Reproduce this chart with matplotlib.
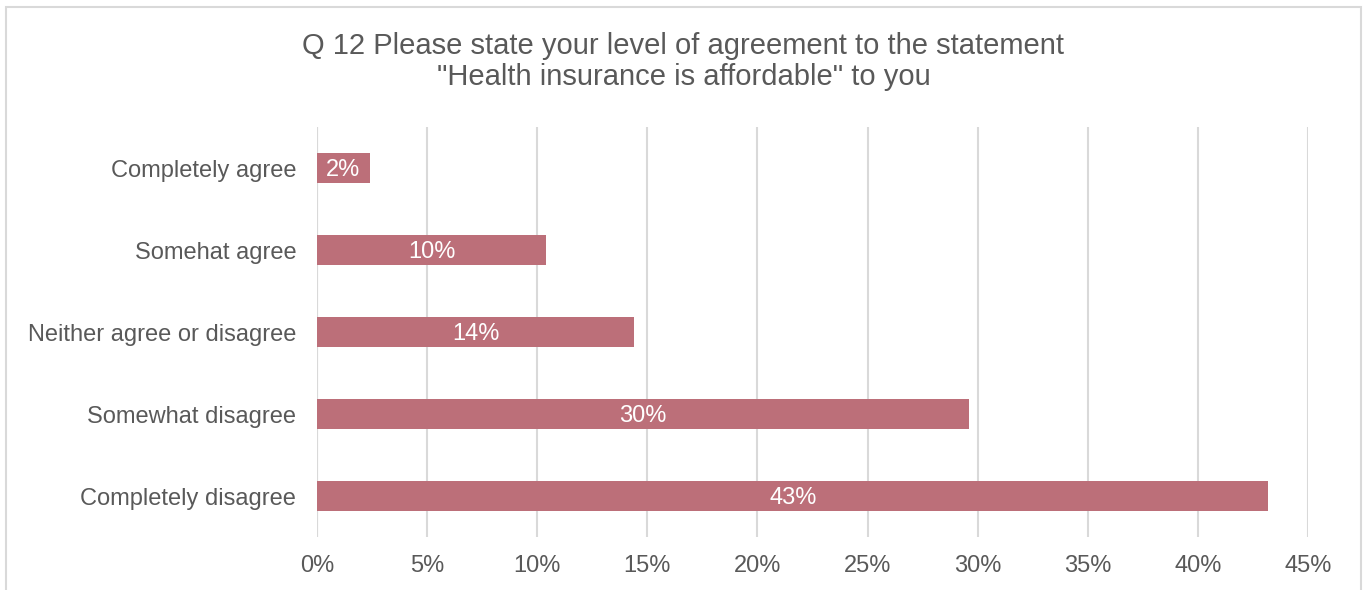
import matplotlib.pyplot as plt
from matplotlib.patches import Rectangle

plt.rcParams.update({
    "font.family": ["Liberation Sans", "DejaVu Sans"],
    "font.size": 17,
})

categories = ["Completely agree", "Somehat agree", "Neither agree or disagree",
              "Somewhat disagree", "Completely disagree"]
shares = [2.4, 10.4, 14.4, 29.6, 43.2]
ticks = [0, 5, 10, 15, 20, 25, 30, 35, 40, 45]

text_col = "#595959"
bar_col = "#BC6F79"
grid_col = "#D9D9D9"

fig = plt.figure(figsize=(13.67, 5.90), dpi=100)
ax = fig.add_axes([0.2319, 0.0898, 0.725, 0.6949])

ypos = list(range(len(categories)))
bars = ax.barh(ypos, shares, height=0.36, color=bar_col, zorder=2)
for b, v in zip(bars, shares):
    ax.text(v / 2, b.get_y() + b.get_height() / 2 + 0.02, f"{v:.0f}%",
            ha="center", va="center", color="white", fontsize=17, zorder=3)

ax.set_ylim(len(categories) - 0.5, -0.5)
ax.set_xlim(0, 45)
ax.set_yticks(ypos)
ax.set_yticklabels(categories, color=text_col)
ax.set_xticks(ticks)
ax.set_xticklabels([f"{t}%" for t in ticks], color=text_col)
ax.tick_params(length=0)
ax.tick_params(axis="y", pad=15)
ax.tick_params(axis="x", pad=13)
ax.grid(axis="x", color=grid_col, linewidth=1.5, zorder=0)
for s in ax.spines.values():
    s.set_visible(False)
ax.axvline(0, color=grid_col, linewidth=1.5, zorder=1)

fig.text(0.5, 0.896, 'Q 12 Please state your level of agreement to the statement\n'
         '"Health insurance is affordable" to you',
         ha="center", va="center", color=text_col, fontsize=21, linespacing=1.15)

# chart area frame
fig.patches.append(Rectangle((6 / 1367, -0.05), 1355 / 1367, 1 - 7 / 590 + 0.05,
                             transform=fig.transFigure, fill=False,
                             edgecolor=grid_col, linewidth=1.5))

fig.savefig("out.png", dpi=100)
